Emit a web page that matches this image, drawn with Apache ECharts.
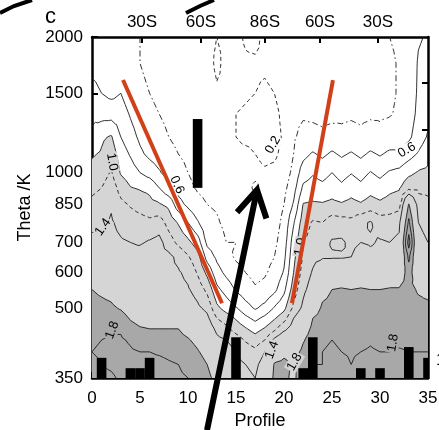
<!DOCTYPE html>
<html>
<head>
<meta charset="utf-8">
<script src="https://cdn.jsdelivr.net/npm/echarts@6/dist/echarts.min.js"></script>
<style>
  html, body { margin: 0; padding: 0; background: #fff; }
  #chart { width: 439px; height: 430px; }
</style>
</head>
<body>
<div id="chart"></div>
<script>
// ---- axes -------------------------------------------------------------
const profiles = [0,1,2,3,4,5,6,7,8,9,10,11,12,13,14,15,16,17,18,19,20,21,22,23,24,25,26,27,28,29,30,31,32,33,34,35];
const profileTicks = [0,5,10,15,20,25,30,35];
const thetaLevels = [350,375,400,425,450,475,500,550,600,650,700,775,850,925,1000,1100,1200,1350,1500,1750,2000];
const thetaTicks = [350,500,600,700,850,1000,1500,2000];
const rightTicks = [384,490,599,716,839,1013,1243,1581];
const rightLabelAt = [384];
const rightLabelText = ['15'];
const latTicks = [5.21,11.35,18.02,23.75,29.79];
const latLabels = ['30S','60S','86S','60S','30S'];

// ---- field: one column per profile, values listed from 350 K up to 2000 K
const p00 = [1.95,1.97,2.00,1.98,1.95,1.92,1.88,1.80,1.62,1.52,1.45,1.35,1.25,1.15,1.06,0.98,0.86,0.74,0.64,0.56,0.52];
const p01 = [1.97,2.00,2.02,2.00,1.96,1.92,1.86,1.76,1.58,1.50,1.44,1.38,1.30,1.20,1.10,1.02,0.97,0.72,0.60,0.55,0.50];
const p02 = [1.98,2.02,2.05,2.02,1.98,1.92,1.84,1.72,1.55,1.50,1.45,1.42,1.38,1.32,1.22,1.12,1.02,0.72,0.55,0.52,0.48];
const p03 = [2.02,2.05,2.05,2.02,1.98,1.90,1.78,1.62,1.50,1.46,1.42,1.35,1.25,1.12,0.98,0.90,0.80,0.70,0.60,0.50,0.45];
const p04 = [2.05,2.05,2.02,1.98,1.88,1.78,1.68,1.58,1.48,1.45,1.40,1.30,1.18,1.01,0.90,0.78,0.68,0.58,0.48,0.43,0.42];
const p05 = [2.05,2.05,2.00,1.92,1.82,1.72,1.62,1.55,1.50,1.48,1.38,1.28,1.12,0.98,0.80,0.64,0.56,0.48,0.42,0.40,0.40];
const p06 = [2.05,2.05,2.00,1.90,1.80,1.70,1.60,1.52,1.48,1.52,1.42,1.25,1.06,0.95,0.72,0.55,0.48,0.42,0.40,0.38,0.38];
const p07 = [2.05,2.05,1.98,1.90,1.80,1.70,1.60,1.50,1.48,1.44,1.46,1.30,1.02,0.80,0.62,0.50,0.44,0.40,0.38,0.36,0.36];
const p08 = [2.05,2.02,1.96,1.88,1.80,1.68,1.58,1.48,1.44,1.45,1.30,1.12,0.95,0.65,0.52,0.45,0.40,0.37,0.35,0.35,0.35];
const p09 = [2.02,2.00,1.94,1.86,1.80,1.66,1.56,1.46,1.42,1.35,1.15,0.98,0.68,0.52,0.45,0.40,0.36,0.35,0.34,0.33,0.33];
const p10 = [2.00,1.96,1.90,1.82,1.72,1.62,1.52,1.42,1.35,1.22,1.05,0.80,0.55,0.44,0.40,0.37,0.35,0.33,0.32,0.32,0.32];
const p11 = [1.95,1.90,1.82,1.74,1.64,1.54,1.44,1.32,1.18,1.08,0.90,0.62,0.45,0.38,0.35,0.33,0.32,0.32,0.30,0.30,0.30];
const p12 = [1.88,1.80,1.72,1.62,1.54,1.45,1.35,1.15,0.95,0.72,0.55,0.45,0.40,0.36,0.33,0.31,0.30,0.30,0.28,0.26,0.25];
const p13 = [1.70,1.62,1.55,1.45,1.35,1.20,1.05,0.85,0.68,0.56,0.48,0.42,0.38,0.35,0.32,0.30,0.28,0.26,0.22,0.17,0.20];
const p14 = [1.60,1.55,1.50,1.40,1.25,1.10,0.92,0.72,0.55,0.45,0.40,0.36,0.33,0.30,0.28,0.26,0.23,0.22,0.23,0.24,0.22];
const p15 = [1.50,1.45,1.40,1.30,1.12,0.98,0.82,0.58,0.45,0.38,0.40,0.34,0.30,0.28,0.25,0.22,0.20,0.20,0.22,0.25,0.24];
const p16 = [1.45,1.40,1.30,1.18,1.02,0.85,0.68,0.48,0.40,0.36,0.35,0.30,0.28,0.26,0.24,0.22,0.18,0.19,0.21,0.22,0.18];
const p17 = [1.40,1.35,1.25,1.10,0.92,0.75,0.58,0.42,0.35,0.32,0.30,0.28,0.26,0.17,0.24,0.20,0.18,0.18,0.20,0.22,0.16];
const p18 = [1.55,1.50,1.40,1.20,1.02,0.85,0.66,0.45,0.38,0.35,0.32,0.30,0.27,0.25,0.22,0.16,0.15,0.14,0.18,0.22,0.24];
const p19 = [1.85,1.82,1.65,1.45,1.15,0.98,0.82,0.55,0.45,0.40,0.36,0.32,0.30,0.28,0.24,0.17,0.15,0.16,0.20,0.24,0.27];
const p20 = [1.85,1.85,1.75,1.60,1.35,1.12,0.95,0.75,0.62,0.55,0.50,0.45,0.40,0.35,0.30,0.25,0.22,0.24,0.27,0.30,0.32];
const p21 = [1.75,1.78,1.72,1.60,1.50,1.40,1.25,1.10,1.00,0.95,0.90,0.78,0.62,0.52,0.45,0.40,0.38,0.36,0.36,0.35,0.35];
const p22 = [1.95,1.90,1.85,1.78,1.68,1.58,1.45,1.35,1.28,1.22,1.18,1.10,1.01,0.84,0.70,0.54,0.45,0.38,0.36,0.35,0.35];
const p23 = [2.00,2.00,1.95,1.90,1.85,1.80,1.65,1.50,1.42,1.35,1.30,1.22,1.03,0.88,0.78,0.62,0.45,0.37,0.35,0.34,0.34];
const p24 = [2.05,2.00,2.00,1.95,1.90,1.88,1.84,1.72,1.55,1.38,1.32,1.20,1.02,0.85,0.73,0.56,0.43,0.36,0.34,0.33,0.33];
const p25 = [2.05,2.10,2.05,2.00,1.95,1.90,1.86,1.80,1.60,1.38,1.42,1.30,1.05,0.90,0.80,0.63,0.46,0.36,0.34,0.33,0.34];
const p26 = [2.10,2.05,2.00,1.95,1.92,1.90,1.86,1.82,1.62,1.38,1.43,1.28,1.02,0.84,0.73,0.57,0.44,0.37,0.35,0.34,0.35];
const p27 = [2.05,2.00,1.98,1.95,1.90,1.88,1.85,1.80,1.58,1.40,1.35,1.25,1.06,0.91,0.79,0.62,0.45,0.38,0.36,0.35,0.36];
const p28 = [2.10,2.05,2.00,1.95,1.92,1.88,1.86,1.82,1.62,1.50,1.40,1.35,1.02,0.85,0.73,0.56,0.43,0.37,0.35,0.35,0.37];
const p29 = [2.10,2.08,2.02,1.98,1.93,1.90,1.85,1.80,1.60,1.45,1.38,1.42,1.08,0.93,0.81,0.63,0.46,0.38,0.36,0.36,0.38];
const p30 = [2.05,2.05,2.00,1.95,1.90,1.88,1.84,1.80,1.60,1.45,1.42,1.30,1.04,0.88,0.75,0.58,0.44,0.38,0.37,0.37,0.39];
const p31 = [2.10,2.05,2.00,1.96,1.92,1.90,1.86,1.82,1.62,1.48,1.40,1.30,1.08,0.95,0.82,0.64,0.47,0.39,0.38,0.38,0.40];
const p32 = [2.10,2.08,2.02,1.96,1.92,1.90,1.86,1.82,1.65,1.50,1.45,1.35,1.12,0.98,0.85,0.64,0.48,0.42,0.41,0.41,0.42];
const p33 = [2.10,2.05,2.00,1.95,1.92,1.90,1.88,1.85,1.90,2.05,2.30,2.05,1.82,1.15,0.95,0.72,0.56,0.50,0.48,0.46,0.45];
const p34 = [2.10,2.05,2.00,1.95,1.90,1.88,1.85,1.78,1.60,1.50,1.45,1.40,1.30,1.15,1.02,0.82,0.70,0.65,0.63,0.62,0.58];
const p35 = [2.10,2.05,2.00,1.95,1.90,1.88,1.84,1.75,1.55,1.45,1.40,1.35,1.25,1.15,1.05,0.92,0.82,0.75,0.70,0.66,0.62];
const columns = [p00,p01,p02,p03,p04,p05,p06,p07,p08,p09,p10,p11,p12,p13,p14,p15,p16,p17,p18,p19,p20,
                 p21,p22,p23,p24,p25,p26,p27,p28,p29,p30,p31,p32,p33,p34,p35];

// shading thresholds and contour levels
const shadeLevels = [1.0, 1.8, 2.2];
const shadeColors = ['#d5d5d5', '#a8a8a8', '#7e7e7e'];
const lineLevels = [0.2, 0.4, 0.6, 0.8, 1.0, 1.2, 1.4, 1.8, 2.0, 2.2];
const lineDashes = {0.2: [4, 3], 0.4: [6, 3, 1.5, 3], 1.2: [4, 3]};

// black columns along the bottom and the block near 60S
const barProfiles = [1, 4, 5, 6, 15, 22, 23, 28, 30, 33, 35];
const barTops = [388, 368, 368, 388, 431, 368, 431, 368, 368, 410, 388];
const blockProfile = 11;
const blockRange = [925, 1315];

// vortex-edge guide lines and the arrow
const leftEdge = [[3.23, 1605], [13.54, 513]];
const rightEdge = [[25.1, 1605], [20.83, 513]];
const arrowTail = [11.98, 268];
const arrowHead = [17.19, 915];

// inline contour labels: profile, theta, text, angle
const contourLabels = [
  [2.08, 1056, '1.0', -80],
  [8.85, 939, '0.6', -66],
  [1.15, 757, '1.4', 55],
  [2.1, 447, '1.8', 70],
  [18.85, 1152, '0.2', 60],
  [32.8, 1122, '0.6', 30],
  [21.7, 684, '1.0', 80],
  [18.75, 404, '1.4', 70],
  [21.1, 380, '1.8', 60],
  [31.35, 419, '1.8', 80]
];

const FONT = "'Liberation Sans', Arial, Helvetica, sans-serif";
const lg = Math.log10;

// ---- triangulated field (each cell split around its centre) ----------
const NX = columns.length, NY = thetaLevels.length;
const ly = thetaLevels.map(lg);
function node(i, j) { return { id: 'n' + i + '_' + j, x: i, y: ly[j], v: columns[i][j] }; }
const tris = [];
for (let i = 0; i < NX - 1; i++) {
  for (let j = 0; j < NY - 1; j++) {
    const A = node(i, j), B = node(i + 1, j), C = node(i + 1, j + 1), D = node(i, j + 1);
    const M = { id: 'c' + i + '_' + j, x: i + 0.5, y: (ly[j] + ly[j + 1]) / 2, v: (A.v + B.v + C.v + D.v) / 4 };
    tris.push([A, B, M], [B, C, M], [C, D, M], [D, A, M]);
  }
}

function bandPolys(level) {
  const out = [];
  for (const t of tris) {
    const poly = [];
    for (let e = 0; e < 3; e++) {
      const a = t[e], b = t[(e + 1) % 3];
      const ia = a.v >= level, ib = b.v >= level;
      if (ia) poly.push([a.x, a.y]);
      if (ia !== ib) {
        const s = (level - a.v) / (b.v - a.v);
        poly.push([a.x + s * (b.x - a.x), a.y + s * (b.y - a.y)]);
      }
    }
    if (poly.length >= 3) out.push(poly);
  }
  return out;
}

function isoLines(level) {
  const segs = [], byKey = new Map();
  for (const t of tris) {
    const pts = [];
    for (let e = 0; e < 3; e++) {
      let a = t[e], b = t[(e + 1) % 3];
      if ((a.v >= level) !== (b.v >= level)) {
        if (a.id > b.id) { const tmp = a; a = b; b = tmp; }
        const s = (level - a.v) / (b.v - a.v);
        pts.push({ key: a.id + '|' + b.id, x: a.x + s * (b.x - a.x), y: a.y + s * (b.y - a.y) });
      }
    }
    if (pts.length === 2) {
      const idx = segs.length;
      segs.push(pts);
      for (const p of pts) {
        if (!byKey.has(p.key)) byKey.set(p.key, []);
        byKey.get(p.key).push(idx);
      }
    }
  }
  const used = new Array(segs.length).fill(false);
  const lines = [];
  function grow(line) {
    let last = line[line.length - 1];
    for (;;) {
      const next = (byKey.get(last.key) || []).find(k => !used[k]);
      if (next === undefined) break;
      used[next] = true;
      const sg = segs[next];
      last = sg[0].key === last.key ? sg[1] : sg[0];
      line.push(last);
    }
  }
  for (let s = 0; s < segs.length; s++) {
    if (used[s]) continue;
    used[s] = true;
    const line = [segs[s][0], segs[s][1]];
    grow(line);
    line.reverse();
    grow(line);
    lines.push(line.map(p => [p.x, p.y]));
  }
  return lines;
}

function fieldAt(p, lt) {
  const i = Math.max(0, Math.min(NX - 2, Math.floor(p)));
  let j = 0;
  while (j < NY - 2 && ly[j + 1] < lt) j++;
  const fx = Math.max(0, Math.min(1, p - i));
  const fy = Math.max(0, Math.min(1, (lt - ly[j]) / (ly[j + 1] - ly[j])));
  const v00 = columns[i][j], v10 = columns[i + 1][j], v01 = columns[i][j + 1], v11 = columns[i + 1][j + 1];
  return v00 * (1 - fx) * (1 - fy) + v10 * fx * (1 - fy) + v01 * (1 - fx) * fy + v11 * fx * fy;
}
function shadeFor(v) {
  let c = '#ffffff';
  shadeLevels.forEach((lv, k) => { if (v >= lv) c = shadeColors[k]; });
  return c;
}

const bands = shadeLevels.map(bandPolys);
const contours = lineLevels.map(isoLines);

// a path made of many sub-rings, filled or stroked in one go
echarts.graphic.registerShape('multiPath', echarts.graphic.extendShape({
  shape: { rings: [], closed: true },
  buildPath(ctx, shape) {
    for (const r of shape.rings) {
      if (r.length < 2) continue;
      ctx.moveTo(r[0][0], r[0][1]);
      for (let k = 1; k < r.length; k++) ctx.lineTo(r[k][0], r[k][1]);
      if (shape.closed) ctx.closePath();
    }
  }
}));

function toPx(api, rings) {
  return rings.map(r => r.map(p => api.coord(p)));
}

const chart = echarts.init(document.getElementById('chart'), null, { renderer: 'canvas' });

const axisLine = { show: true, onZero: false, lineStyle: { color: '#000', width: 2.5 } };
const tickStyle = { color: '#000', width: 2 };
const labelStyle = { color: '#000', fontSize: 17, fontFamily: FONT };
const labelFont = '17px ' + FONT;

const option = {
  animation: false,
  backgroundColor: '#fff',
  grid: { left: 92, right: 11, top: 37, bottom: 52, outerBoundsMode: 'none', containLabel: false },
  xAxis: [
    {
      type: 'value', position: 'bottom', min: 0, max: 35, interval: 5,
      axisLine, splitLine: { show: false },
      axisTick: { show: true, inside: true, length: 6, lineStyle: tickStyle },
      minorTick: { show: true, splitNumber: 5, length: 3, lineStyle: tickStyle },
      axisLabel: { show: false },
      name: 'Profile', nameLocation: 'middle', nameGap: 34,
      nameTextStyle: { color: '#000', fontSize: 18, fontFamily: FONT }
    },
    {
      type: 'value', position: 'top', min: 0, max: 35,
      axisLine, splitLine: { show: false },
      axisTick: { show: true, inside: true, length: 6, lineStyle: tickStyle, customValues: latTicks },
      axisLabel: Object.assign({
        margin: 6, customValues: latTicks,
        formatter: v => latLabels[latTicks.findIndex(t => Math.abs(t - v) < 1e-6)] || ''
      }, labelStyle)
    }
  ],
  yAxis: [
    {
      type: 'value', position: 'left', min: lg(350), max: lg(2000),
      axisLine, splitLine: { show: false },
      axisTick: { show: true, inside: true, length: 6, lineStyle: tickStyle, customValues: thetaTicks.map(lg) },
      axisLabel: Object.assign({
        margin: 9, customValues: thetaTicks.map(lg),
        formatter: v => String(Math.round(Math.pow(10, v)))
      }, labelStyle),
      name: 'Theta /K', nameLocation: 'middle', nameGap: 57, nameRotate: 90,
      nameTextStyle: { color: '#000', fontSize: 18, fontFamily: FONT }
    },
    {
      type: 'value', position: 'right', min: lg(350), max: lg(2000),
      axisLine, splitLine: { show: false },
      axisTick: { show: true, inside: true, length: 6, lineStyle: tickStyle, customValues: rightTicks.map(lg) },
      axisLabel: { show: false }
    }
  ],
  series: [
    // shaded bands
    {
      type: 'custom', coordinateSystem: 'cartesian2d', z: 1, silent: true,
      data: [[0, lg(350)]],
      renderItem(params, api) {
        return {
          type: 'group',
          children: bands.map((polys, k) => ({
            type: 'multiPath',
            shape: { rings: toPx(api, polys), closed: true },
            style: { fill: shadeColors[k], stroke: null }
          }))
        };
      }
    },
    // contour lines
    {
      type: 'custom', coordinateSystem: 'cartesian2d', z: 2, silent: true,
      data: [[0, lg(350)]],
      renderItem(params, api) {
        return {
          type: 'group',
          children: contours.map((lines, k) => ({
            type: 'multiPath',
            shape: { rings: toPx(api, lines), closed: false },
            style: {
              fill: null, stroke: '#1c1c1c', lineWidth: 0.9,
              lineDash: lineDashes[lineLevels[k]] || null
            }
          }))
        };
      }
    },
    // inline contour labels
    {
      type: 'custom', coordinateSystem: 'cartesian2d', z: 3, silent: true,
      data: contourLabels.map(d => [d[0], lg(d[1])]),
      renderItem(params, api) {
        const d = contourLabels[params.dataIndex];
        const pt = api.coord([api.value(0), api.value(1)]);
        return {
          type: 'text', x: pt[0], y: pt[1], rotation: d[3] * Math.PI / 180,
          style: {
            text: d[2], fill: '#000', font: '13px ' + FONT,
            align: 'center', verticalAlign: 'middle',
            backgroundColor: shadeFor(fieldAt(d[0], lg(d[1]))), padding: [0, 1]
          }
        };
      }
    },
    // black columns at the bottom
    {
      type: 'custom', coordinateSystem: 'cartesian2d', z: 4, silent: true, clip: true,
      data: barProfiles.map((p, k) => [p, lg(barTops[k])]),
      renderItem(params, api) {
        const p = api.value(0);
        const a = api.coord([p - 0.5, lg(350)]);
        const b = api.coord([p + 0.5, api.value(1)]);
        return { type: 'rect', shape: { x: a[0], y: b[1], width: b[0] - a[0], height: a[1] - b[1] }, style: { fill: '#000' } };
      }
    },
    // block near 60S
    {
      type: 'custom', coordinateSystem: 'cartesian2d', z: 4, silent: true,
      data: [[blockProfile, lg(blockRange[0]), lg(blockRange[1])]],
      renderItem(params, api) {
        const p = api.value(0);
        const a = api.coord([p - 0.5, api.value(1)]);
        const b = api.coord([p + 0.5, api.value(2)]);
        return { type: 'rect', shape: { x: a[0], y: b[1], width: b[0] - a[0], height: a[1] - b[1] }, style: { fill: '#000' } };
      }
    },
    // edge guide lines
    {
      type: 'line', z: 5, silent: true, symbol: 'none',
      data: leftEdge.map(d => [d[0], lg(d[1])]),
      lineStyle: { color: '#d2401a', width: 4, cap: 'butt' }
    },
    {
      type: 'line', z: 5, silent: true, symbol: 'none',
      data: rightEdge.map(d => [d[0], lg(d[1])]),
      lineStyle: { color: '#d2401a', width: 4, cap: 'butt' }
    },
    // arrow
    {
      type: 'custom', coordinateSystem: 'cartesian2d', z: 6, silent: true, clip: false,
      encode: { x: [0, 2], y: [1, 3] },
      data: [[arrowTail[0], lg(arrowTail[1]), arrowHead[0], lg(arrowHead[1])]],
      renderItem(params, api) {
        const t = api.coord([api.value(0), api.value(1)]);
        const h = api.coord([api.value(2), api.value(3)]);
        const dx = t[0] - h[0], dy = t[1] - h[1], len = Math.hypot(dx, dy);
        const ux = dx / len, uy = dy / len, wl = 30, ang = 30 * Math.PI / 180;
        const w1 = [h[0] + wl * (ux * Math.cos(ang) - uy * Math.sin(ang)), h[1] + wl * (ux * Math.sin(ang) + uy * Math.cos(ang))];
        const w2 = [h[0] + wl * (ux * Math.cos(-ang) - uy * Math.sin(-ang)), h[1] + wl * (ux * Math.sin(-ang) + uy * Math.cos(-ang))];
        return {
          type: 'group',
          children: [
            { type: 'line', shape: { x1: t[0], y1: t[1], x2: h[0] + ux * 3, y2: h[1] + uy * 3 }, style: { stroke: '#000', lineWidth: 6 } },
            { type: 'polyline', shape: { points: [w1, h, w2] }, style: { stroke: '#000', lineWidth: 6, fill: null, lineJoin: 'miter' } }
          ]
        };
      }
    },
    // bottom tick labels, placed under their ticks (the last one runs off the edge)
    {
      type: 'custom', coordinateSystem: 'cartesian2d', z: 6, silent: true, clip: false,
      data: profileTicks.map(p => [p, lg(350)]),
      renderItem(params, api) {
        const pt = api.coord([api.value(0), api.value(1)]);
        return {
          type: 'text', x: pt[0], y: pt[1] + 12,
          style: { text: String(api.value(0)), font: labelFont, fill: '#000', align: 'center', verticalAlign: 'top' }
        };
      }
    },
    // label on the right-hand axis (mostly beyond the edge)
    {
      type: 'custom', coordinateSystem: 'cartesian2d', z: 6, silent: true, clip: false,
      data: rightLabelAt.map(t => [35, lg(t)]),
      renderItem(params, api) {
        const pt = api.coord([api.value(0), api.value(1)]);
        return {
          type: 'text', x: pt[0] + 8, y: pt[1],
          style: { text: rightLabelText[params.dataIndex], font: labelFont, fill: '#000', align: 'left', verticalAlign: 'middle' }
        };
      }
    }
  ],
  graphic: [
    { type: 'text', left: 45, top: 6, style: { text: 'c', font: '22px ' + FONT, fill: '#000' } },
    { type: 'polyline', shape: { points: [[0, 13], [14, 6], [32, 0]] }, style: { stroke: '#000', lineWidth: 4, fill: null } },
    { type: 'polyline', shape: { points: [[186, 13], [200, 6], [214, 0]] }, style: { stroke: '#000', lineWidth: 4, fill: null } }
  ]
};

chart.setOption(option);
</script>
</body>
</html>
